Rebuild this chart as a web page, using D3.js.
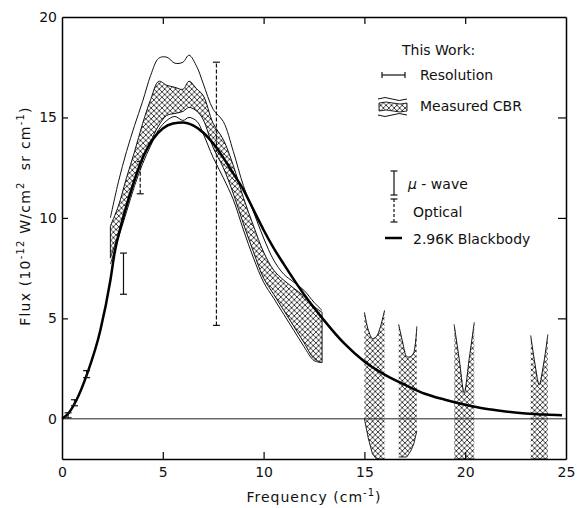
<!DOCTYPE html>
<html>
<head>
<meta charset="utf-8">
<script src="https://cdn.jsdelivr.net/npm/d3@7"></script>
<style>
body { margin:0; background:#fff; }
text { font-family: "DejaVu Sans", sans-serif; fill:#111; }
</style>
</head>
<body>
<script>
// values: frequency in cm^-1, flux in 1e-12 W/cm2 sr cm-1
let bbNu   = [0, 0.3, 0.7, 1.25, 1.9, 2.4, 2.6, 3.0, 3.5, 3.9, 4.5, 5.0, 5.5, 6.0, 6.5, 7.0, 7.5, 8.0, 8.5, 9.0, 9.5, 10.0, 10.5, 11.0, 12.0, 13.0, 14.0, 15.0, 16.0, 17.0, 18.0, 19.0, 20.0, 21.0, 22.0, 23.0, 24.0, 24.8];
let bbFlux = [0, 0.25, 0.9, 2.25, 4.4, 6.9, 8.2, 9.9, 11.6, 12.75, 13.9, 14.45, 14.7, 14.75, 14.6, 14.25, 13.7, 13.0, 12.2, 11.4, 10.4, 9.4, 8.5, 7.7, 6.2, 4.9, 3.75, 2.85, 2.2, 1.7, 1.25, 0.95, 0.7, 0.5, 0.37, 0.27, 0.21, 0.18];

let cbrNu  = [2.4, 2.8, 3.2, 3.6, 4.0, 4.4, 4.8, 5.2, 5.6, 6.0, 6.3, 6.7, 7.0, 7.5, 8.0, 8.5, 9.0, 9.5, 10.0, 10.5, 11.0, 11.5, 12.0, 12.5, 12.9];
let cbrTop = [9.6, 10.6, 12.0, 13.3, 14.7, 15.9, 16.8, 16.6, 16.5, 16.4, 16.8, 16.4, 16.1, 14.7, 13.9, 12.6, 11.0, 9.6, 8.3, 7.4, 6.9, 6.5, 6.1, 5.6, 5.3];
let cbrBot = [8.0, 9.2, 10.5, 11.8, 12.9, 13.8, 14.6, 15.1, 15.2, 15.3, 15.5, 15.3, 14.9, 13.5, 12.5, 11.2, 9.7, 8.3, 7.0, 6.2, 5.4, 4.6, 3.8, 3.0, 2.8];
let envTop = [10.0, 11.8, 13.3, 14.6, 15.8, 17.1, 17.95, 18.0, 17.7, 17.75, 18.1, 17.5, 16.7, 15.4, 14.8, 13.3, 11.6, 10.3, 9.0, 7.9, 7.2, 6.8, 6.4, 5.8, 5.4];
let envBot = [7.7, 9.0, 10.3, 11.6, 12.7, 13.6, 14.4, 14.85, 15.05, 14.85, 15.0, 14.8, 14.2, 13.0, 12.0, 10.9, 9.4, 8.0, 6.8, 6.0, 5.2, 4.4, 3.6, 2.9, 2.8];

let col1Nu = [15.0, 15.2, 15.4, 15.6, 15.8, 16.0];
let col1Top = [5.3, 4.4, 4.0, 4.1, 4.6, 5.4];
let col1Bot = [0, -1.0, -1.75, -2, -2, -2];
let col2Nu = [16.7, 16.9, 17.1, 17.3, 17.45, 17.6];
let col2Top = [4.7, 3.8, 3.1, 3.1, 3.3, 4.6];
let col2Bot = [-1.9, -1.9, -1.9, -1.6, -1.25, -0.6];
let col3Nu = [19.45, 19.7, 19.95, 20.2, 20.45];
let col3Top = [4.7, 3.0, 1.3, 3.0, 4.8];
let col3Bot = [-2, -2, -2, -2, -2];
let col4Nu = [23.25, 23.45, 23.67, 23.9, 24.1];
let col4Top = [4.15, 2.8, 1.7, 2.8, 4.2];
let col4Bot = [-2, -2, -2, -2, -2];

let uwaveNu = [0.3, 0.62, 1.22, 3.05];
let uwaveLo = [0.05, 0.65, 2.05, 6.2];
let uwaveHi = [0.3, 0.95, 2.4, 8.25];
let opticalNu = [3.88, 7.66];
let opticalLo = [11.2, 4.65];
let opticalHi = [12.8, 17.75];

let xTicks = [0, 5, 10, 15, 20, 25];
let yTicks = [0, 5, 10, 15, 20];

let width = 578, height = 508;

let svg = d3.select("body").append("svg")
.attr("width", width)
.attr("height", height);

svg.append("rect").attr("width", width).attr("height", height).attr("fill", "#fff");

let x = d3.scaleLinear().domain([0, 25]).range([62, 566]);
let y = d3.scaleLinear().domain([-2, 20]).range([459, 17]);

let pat = svg.append("defs").append("pattern")
.attr("id", "xhatch")
.attr("patternUnits", "userSpaceOnUse")
.attr("width", 5.4)
.attr("height", 5.4);
pat.append("path")
.attr("d", "M0,0L5.4,5.4M5.4,0L0,5.4")
.attr("stroke", "#000")
.attr("stroke-width", 0.75);

let zip = (nu, a, b) => nu.map((v, i) => ({nu: v, hi: a[i], lo: b ? b[i] : 0}));

let band = d3.area().x(d => x(d.nu)).y0(d => y(d.lo)).y1(d => y(d.hi)).curve(d3.curveCatmullRom);
let topLine = d3.line().x(d => x(d.nu)).y(d => y(d.hi)).curve(d3.curveCatmullRom);

// envelope of the measurement (thin lines)
svg.append("path").datum(zip(cbrNu, envTop))
.attr("d", topLine).attr("fill", "none").attr("stroke", "#111").attr("stroke-width", 1);
svg.append("path").datum(zip(cbrNu, envBot))
.attr("d", topLine).attr("fill", "none").attr("stroke", "#111").attr("stroke-width", 1);

// measured band
svg.append("path").datum(zip(cbrNu, cbrTop, cbrBot))
.attr("d", band).attr("fill", "url(#xhatch)").attr("stroke", "#111").attr("stroke-width", 1);

// high frequency columns
let cols = [[col1Nu, col1Top, col1Bot], [col2Nu, col2Top, col2Bot], [col3Nu, col3Top, col3Bot], [col4Nu, col4Top, col4Bot]];
let colArea = d3.area().x(d => x(d.nu)).y0(d => y(d.lo)).y1(d => y(d.hi)).curve(d3.curveLinear);
let colLine = d3.line().x(d => x(d.nu)).y(d => y(d.hi)).curve(d3.curveCatmullRom);
cols.forEach(c => {
	let data = zip(c[0], c[1], c[2]);
	svg.append("path").datum(data).attr("d", colArea).attr("fill", "url(#xhatch)").attr("stroke", "none");
	svg.append("path").datum(data).attr("d", colLine).attr("fill", "none").attr("stroke", "#111").attr("stroke-width", 1);
	svg.append("path").datum(data)
	.attr("d", d3.line().x(d => x(d.nu)).y(d => y(d.lo)))
	.attr("fill", "none").attr("stroke", "#111").attr("stroke-width", 0.9);
});

// zero line
svg.append("line")
.attr("x1", x(0)).attr("x2", x(25))
.attr("y1", y(0)).attr("y2", y(0))
.attr("stroke", "#222").attr("stroke-width", 1);

// blackbody
svg.append("path").datum(bbNu.map((v, i) => ({nu: v, hi: bbFlux[i]})))
.attr("d", d3.line().x(d => x(d.nu)).y(d => y(d.hi)).curve(d3.curveMonotoneX))
.attr("fill", "none").attr("stroke", "#000").attr("stroke-width", 2.5);

// error bars
function errBars(nu, lo, hi, dash) {
	let g = svg.append("g").attr("stroke", "#111").attr("stroke-width", 1.2);
	nu.forEach((v, i) => {
		g.append("line").attr("x1", x(v)).attr("x2", x(v)).attr("y1", y(lo[i])).attr("y2", y(hi[i]))
		.attr("stroke-dasharray", dash);
		[lo[i], hi[i]].forEach(f => {
			g.append("line").attr("x1", x(v) - 3.5).attr("x2", x(v) + 3.5).attr("y1", y(f)).attr("y2", y(f));
		});
	});
}
errBars(uwaveNu, uwaveLo, uwaveHi, null);
errBars(opticalNu, opticalLo, opticalHi, "4,2");

// axes
let ax = svg.append("g").attr("class", "axes");
let bottom = ax.append("g").attr("transform", "translate(0,459)")
.call(d3.axisBottom(x).tickValues(xTicks).tickSizeInner(-7).tickSizeOuter(0).tickPadding(8));
let left = ax.append("g").attr("transform", "translate(62,0)")
.call(d3.axisLeft(y).tickValues(yTicks).tickSizeInner(-6).tickSizeOuter(0).tickPadding(5));
let topAx = ax.append("g").attr("transform", "translate(0,17)")
.call(d3.axisTop(x).tickValues([5, 10, 15, 20]).tickSizeInner(-7).tickSizeOuter(0).tickFormat(""));
let right = ax.append("g").attr("transform", "translate(566,0)")
.call(d3.axisRight(y).tickValues([5, 10, 15]).tickSizeInner(-8).tickSizeOuter(0).tickFormat(""));
[bottom, left, topAx, right].forEach(g => {
	g.attr("font-size", 14);
	g.select(".domain").attr("stroke-width", 1.5);
	g.selectAll(".tick line").attr("stroke-width", 1.2);
});
bottom.selectAll(".tick line").filter(d => d == 0 || d == 25).remove();
left.selectAll(".tick line").filter(d => d == 0 || d == 20).remove();

// axis titles
svg.append("text")
.attr("x", 314).attr("y", 502)
.attr("text-anchor", "middle")
.attr("font-size", 14)
.attr("letter-spacing", 1)
.html('Frequency (cm<tspan dy="-6" font-size="10">-1</tspan><tspan dy="6">)</tspan>');

svg.append("text")
.attr("transform", "translate(30,216) rotate(-90)")
.attr("text-anchor", "middle")
.attr("font-size", 14)
.attr("letter-spacing", 1.2)
.html('Flux (10<tspan dy="-6" font-size="10">-12</tspan><tspan dy="6"> W/cm</tspan><tspan dy="-6" font-size="10">2</tspan><tspan dy="6">  sr cm</tspan><tspan dy="-6" font-size="10">-1</tspan><tspan dy="6">)</tspan>')
.attr("xml:space", "preserve");

// legend
let lg = svg.append("g").attr("font-size", 14);
lg.append("text").attr("x", 402).attr("y", 55).text("This Work:");

let lgl = lg.append("g").attr("stroke", "#111").attr("stroke-width", 1.2);
lgl.append("line").attr("x1", 382).attr("x2", 405).attr("y1", 75).attr("y2", 75);
lgl.append("line").attr("x1", 382).attr("x2", 382).attr("y1", 72).attr("y2", 78);
lgl.append("line").attr("x1", 405).attr("x2", 405).attr("y1", 72).attr("y2", 78);
lg.append("text").attr("x", 420).attr("y", 80).text("Resolution");

lg.append("path").attr("d", "M378,99 q7,-3 14,0 t15,0").attr("fill", "none").attr("stroke", "#111");
lg.append("path").attr("d", "M379,103 q7,-2 14,0 t14,0 v8 q-7,2 -14,0 t-14,0 z")
.attr("fill", "url(#xhatch)").attr("stroke", "#111").attr("stroke-width", 0.9);
lg.append("path").attr("d", "M378,115 q7,3 14,0 t15,0").attr("fill", "none").attr("stroke", "#111");
lg.append("text").attr("x", 420).attr("y", 111).text("Measured CBR");

lgl.append("line").attr("x1", 394).attr("x2", 394).attr("y1", 171).attr("y2", 195);
lgl.append("line").attr("x1", 390.5).attr("x2", 397.5).attr("y1", 171).attr("y2", 171);
lgl.append("line").attr("x1", 390.5).attr("x2", 397.5).attr("y1", 195).attr("y2", 195);
lg.append("text").attr("x", 408).attr("y", 189)
.html('<tspan font-style="italic">μ</tspan> - wave');

lgl.append("line").attr("x1", 394).attr("x2", 394).attr("y1", 199).attr("y2", 222).attr("stroke-dasharray", "3,2");
lgl.append("line").attr("x1", 390.5).attr("x2", 397.5).attr("y1", 199).attr("y2", 199);
lgl.append("line").attr("x1", 390.5).attr("x2", 397.5).attr("y1", 222).attr("y2", 222);
lg.append("text").attr("x", 413).attr("y", 217).text("Optical");

lg.append("line").attr("x1", 385).attr("x2", 402).attr("y1", 238).attr("y2", 238)
.attr("stroke", "#000").attr("stroke-width", 2.5);
lg.append("text").attr("x", 413).attr("y", 244).text("2.96K Blackbody");
</script>
</body>
</html>
